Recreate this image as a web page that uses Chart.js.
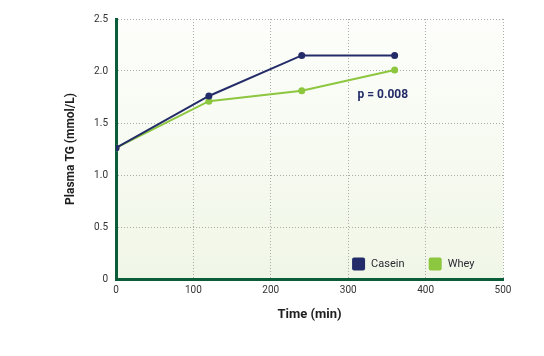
<!DOCTYPE html>
<html><head><meta charset="utf-8">
<script src="https://cdn.jsdelivr.net/npm/chart.js@4/dist/chart.umd.min.js"></script>
<style>html,body{margin:0;padding:0;background:#fff}#wrap{width:544px;height:356px}</style>
</head><body><div id="wrap"><canvas id="c" width="544" height="356"></canvas></div>
<script>
const times = [0, 120, 240, 360];
const casein = [1.26, 1.76, 2.15, 2.15];
const whey = [1.26, 1.71, 1.81, 2.01];
const seriesNames = ['Casein', 'Whey'];
const xTicks = [0, 100, 200, 300, 400, 500];
const yTicks = [0, 0.5, 1.0, 1.5, 2.0, 2.5];
const annotationText = 'p = 0.008';

const NAVY = '#232c68', GREEN = '#8dc63f', AXIS = '#0b5d3a';
const FONT = 'Roboto, "DejaVu Sans", sans-serif';

const bgPlugin = {
  id: 'bg',
  beforeDraw(chart) {
    const {ctx, chartArea: a} = chart;
    const g = ctx.createLinearGradient(0, a.top, 0, a.bottom);
    g.addColorStop(0, '#fdfefb');
    g.addColorStop(1, '#f0f6e7');
    ctx.save(); ctx.fillStyle = g;
    ctx.fillRect(a.left, a.top, a.right - a.left, a.bottom - a.top);
    ctx.restore();
  }
};
const extraPlugin = {
  id: 'extra',
  afterDatasetsDraw(chart) {
    const {ctx} = chart;
    const xs = chart.scales.x, ys = chart.scales.y;
    ctx.save();
    ctx.fillStyle = NAVY;
    ctx.font = 'bold 12px ' + FONT;
    ctx.textAlign = 'left'; ctx.textBaseline = 'middle';
    ctx.fillText(annotationText, xs.getPixelForValue(312), ys.getPixelForValue(1.77));
    ctx.font = '11px ' + FONT;
    const items = [[seriesNames[0], NAVY, 305], [seriesNames[1], GREEN, 404]];
    const yc = ys.getPixelForValue(0.14);
    items.forEach(([t, c, xv]) => {
      const x = xs.getPixelForValue(xv);
      ctx.fillStyle = c;
      ctx.beginPath();
      ctx.roundRect ? ctx.roundRect(x, yc - 7, 13, 13, 2) : ctx.rect(x, yc - 7, 13, 13);
      ctx.fill();
      ctx.fillStyle = '#2a2a33';
      ctx.fillText(t, x + 19, yc);
    });
    ctx.restore();
  }
};

new Chart(document.getElementById('c'), {
  type: 'line',
  data: {
    datasets: [
      {label: seriesNames[0], data: times.map((t, i) => ({x: t, y: casein[i]})),
       borderColor: NAVY, backgroundColor: NAVY, borderWidth: 2, pointRadius: 3.5, pointBorderWidth: 0, tension: 0},
      {label: seriesNames[1], data: times.map((t, i) => ({x: t, y: whey[i]})),
       borderColor: GREEN, backgroundColor: GREEN, borderWidth: 2, pointRadius: 3.5, pointBorderWidth: 0, tension: 0}
    ]
  },
  options: {
    responsive: false, animation: false, devicePixelRatio: 1,
    layout: {padding: {left: 60, right: 41, top: 19, bottom: 27}},
    plugins: {legend: {display: false}, tooltip: {enabled: false}},
    scales: {
      x: {
        type: 'linear', min: 0, max: 500,
        afterBuildTicks: s => { s.ticks = xTicks.map(v => ({value: v})); },
        afterFit: s => { s.height = 50; },
        border: {display: true, color: AXIS, width: 3, dash: [1, 2]},
        grid: {color: '#a9ada5', lineWidth: 1, drawTicks: false},
        ticks: {color: '#333', font: {family: FONT, size: 10}, padding: 5, maxRotation: 0},
        title: {display: true, text: 'Time (min)', color: '#1e1e1e', font: {family: FONT, size: 13, weight: 'bold'}, padding: {top: 0, bottom: 6}}
      },
      y: {
        min: 0, max: 2.5,
        afterBuildTicks: s => { s.ticks = yTicks.map(v => ({value: v})); },
        afterFit: s => { s.width = 56; },
        border: {display: true, color: AXIS, width: 3, dash: [1, 2]},
        grid: {color: '#a9ada5', lineWidth: 1, drawTicks: false},
        ticks: {color: '#333', font: {family: FONT, size: 10}, padding: 8,
                callback: v => v === 0 ? '0' : v.toFixed(1)},
        title: {display: true, text: 'Plasma TG (mmol/L)', color: '#1e1e1e', font: {family: FONT, size: 12, weight: 'bold'}, padding: {top: 4, bottom: 0}}
      }
    }
  },
  plugins: [bgPlugin, extraPlugin]
});
</script></body></html>
